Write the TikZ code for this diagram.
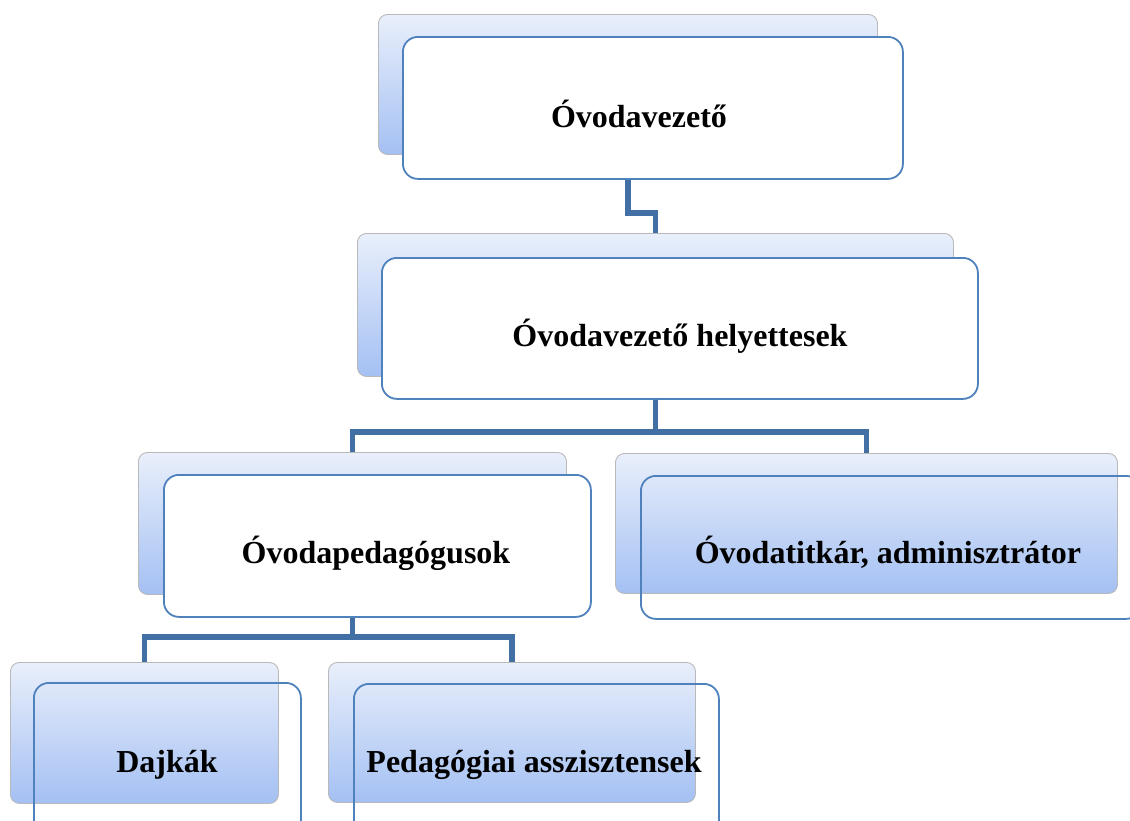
\documentclass[tikz,border=0pt]{standalone}
\usepackage{fontspec}
\setmainfont{Liberation Serif}
\usepackage{tikz}
\usetikzlibrary{calc,positioning}
\definecolor{boxline}{RGB}{79,129,189}
\definecolor{linkline}{RGB}{66,112,165}
\definecolor{gradtop}{RGB}{233,239,251}
\definecolor{gradbot}{RGB}{164,192,243}
\tikzset{
  backbox/.style={draw=gray!55, line width=0.9pt, rounded corners=9pt, top color=gradtop, bottom color=gradbot, inner sep=0pt, anchor=north west},
  frontbox/.style={draw=boxline, line width=1.8pt, rounded corners=15pt, inner sep=0pt},
  whitebox/.style={frontbox, fill=white},
  lbl/.style={font=\fontsize{32}{38}\selectfont\bfseries, anchor=base, inner sep=0pt},
  link/.style={draw=linkline, line width=5.5pt}
}

\begin{document}
\begin{tikzpicture}[x=1pt, y=-1pt]
  \useasboundingbox (0,0) rectangle (1130,820);
  \clip (0,0) rectangle (1130,820);

  % back boxes
  \node[backbox, minimum width=499pt, minimum height=140pt] (b1) at (378,14) {};
  \node[backbox, minimum width=596pt, minimum height=143pt] (b2) at (357,233) {};
  \node[backbox, minimum width=428pt, minimum height=142pt] (b3) at (138,452) {};
  \node[backbox, minimum width=502pt, minimum height=140pt] (b4) at (615,453) {};
  \node[backbox, minimum width=268pt, minimum height=141pt] (b5) at (10,662) {};
  \node[backbox, minimum width=367pt, minimum height=140pt] (b6) at (328,662) {};

  % front boxes
  \node[whitebox, minimum width=500pt, minimum height=142pt, below right=22pt and 24pt of b1.north west] (f1) {};
  \node[whitebox, minimum width=596pt, minimum height=141pt, below right=24pt and 24pt of b2.north west] (f2) {};
  \node[whitebox, minimum width=427pt, minimum height=142pt, below right=22pt and 25pt of b3.north west] (f3) {};
  \node[frontbox, minimum width=500pt, minimum height=143pt, below right=22pt and 25pt of b4.north west] (f4) {};
  \node[frontbox, minimum width=267pt, minimum height=165pt, below right=20pt and 23pt of b5.north west] (f5) {};
  \node[frontbox, minimum width=365pt, minimum height=165pt, below right=21pt and 25pt of b6.north west] (f6) {};

  % connectors
  \coordinate (j1) at (0,213);
  \coordinate (j2) at (0,432);
  \coordinate (j3) at (0,637);
  \draw[link] (b1.center |- f1.south) -- (b1.center |- j1) -| (b2.north);
  \draw[link] (b2.center |- f2.south) -- (b2.center |- j2);
  \draw[link] (b3.north) |- (b2.center |- j2) -| (b4.north);
  \draw[link] (b3.center |- f3.south) -- (b3.center |- j3);
  \draw[link] (b5.north) |- (b3.center |- j3) -| (b6.north);

  % labels
  \node[lbl] (t1) at (639,127) {Óvodavezető};
  \node[lbl] (t2) at (680,346) {Óvodavezető helyettesek};
  \node[lbl] (t3) at (376,563) {Óvodapedagógusok};
  \node[lbl] (t4) at (888,563) {Óvodatitkár, adminisztrátor};
  \node[lbl] (t5) at (167,772) {Dajkák};
  \node[lbl] (t6) at (534,772) {Pedagógiai asszisztensek};
\end{tikzpicture}
\end{document}
